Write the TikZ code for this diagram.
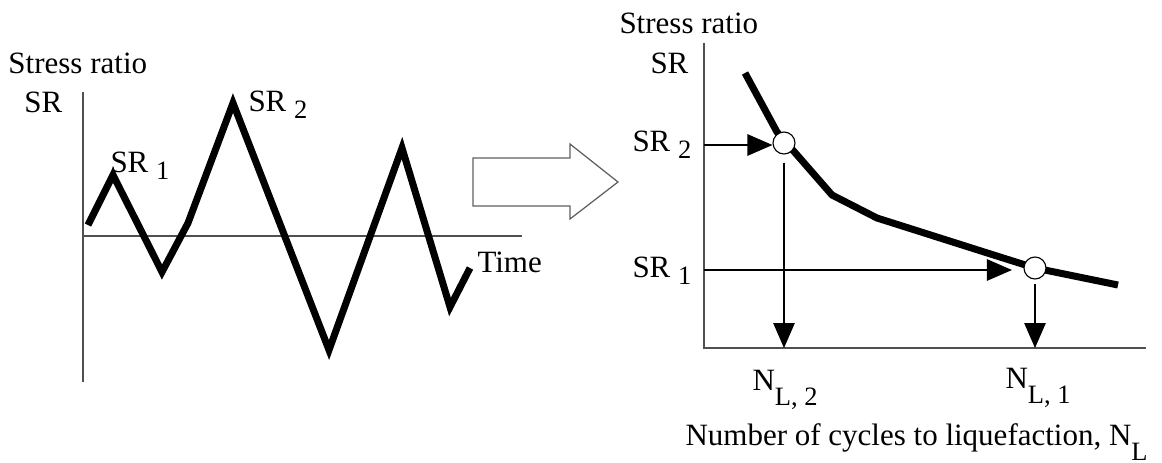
\documentclass[tikz,border=0pt]{standalone}
\usepackage{fontspec}
\setmainfont{Liberation Serif}
\usepackage{tikz}
\usetikzlibrary{arrows.meta,calc}
\definecolor{axisgray}{RGB}{80,80,80}
\definecolor{outlinegray}{RGB}{95,95,95}
\newcommand{\srsub}[1]{\ \raisebox{-2.8pt}{\fontsize{10.6pt}{12pt}\selectfont #1}}
\newcommand{\nsub}[1]{\raisebox{-6pt}{\fontsize{10.6pt}{12pt}\selectfont #1}}

\begin{document}
\begin{tikzpicture}[
  x=0.4pt, y=-0.4pt,
  every node/.style={font=\fontsize{12.4pt}{15pt}\selectfont},
  lbl/.style={anchor=base west, inner sep=0pt},
  axis/.style={draw=axisgray, line width=0.8pt},
  signal/.style={line width=2.8pt, line join=miter},
  guide/.style={line width=0.45pt, -{Triangle[length=10pt,width=8.6pt]}},
  pt/.style={circle, draw, fill=white, line width=0.45pt,
    minimum size=8.8pt, inner sep=0pt},
]
\useasboundingbox (0,0) rectangle (1162,462);

% left: stress ratio against time
\node[lbl] (lstress) at (8,73)    {Stress ratio};
\node[lbl] (lsr)     at (24,112)  {SR};
\node[lbl] (lsr1)    at (110,172) {SR\srsub{1}};
\node[lbl] (lsr2)    at (248,111) {SR\srsub{2}};
\node[lbl] (ltime)   at (477,272) {Time};

\coordinate (lo) at (83,236);
\draw[axis] (83,92) -- (83,382);
\draw[axis] (lo) -- (522,236);

\draw[signal] (88,225) -- (113,175) -- (162,272) -- (188,223) -- (233,103)
  -- (329,350) -- (402,148) -- (450,307) -- (470,268);

% hollow arrow
\draw[outlinegray, line width=0.5pt] (473,158) -- (570,158) -- (570,144)
  -- (618,182) -- (570,219) -- (570,206) -- (473,206) -- cycle;

% right: stress ratio against number of cycles
\node[lbl] (rstress) at (619,33)  {Stress ratio};
\node[lbl] (rsr)     at (650,73)  {SR};
\node[lbl] (rsr2)    at (632,151) {SR\srsub{2}};
\node[lbl] (rsr1)    at (632,277) {SR\srsub{1}};
\node[lbl] (nl2)     at (752,390) {N\nsub{L, 2}};
\node[lbl] (nl1)     at (1005,388) {N\nsub{L, 1}};
\node[lbl] (xtitle)  at (685,445) {Number of cycles to liquefaction, N\nsub{L}};

\coordinate (ro) at (704,348);
\draw[axis] (704,43) -- (ro) -- (1146,348);

\draw[signal] (745,73) -- (777,132) -- (832,195) -- (877,218)
  -- (1000,257) -- (1035,268) -- (1118,285);

\node[pt] (c2) at (784,143) {};
\node[pt] (c1) at (1035,268) {};

\coordinate (sr2) at (704,145);
\coordinate (sr1) at (704,270);

\draw[guide] (sr2) -- (sr2 -| c2.west);
\draw[guide, shorten >=4.6pt] (sr1) -- (sr1 -| c1.west);
\draw[guide, shorten <=3.2pt] (c2.south) -- (c2.south |- ro);
\draw[guide, shorten <=1.6pt] (c1.south) -- (c1.south |- ro);
\end{tikzpicture}
\end{document}
